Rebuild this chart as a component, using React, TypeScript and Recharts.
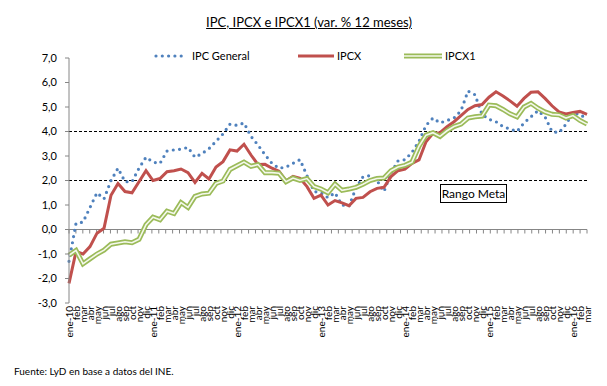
import React from "react";
import { ComposedChart, Line, XAxis, YAxis, ReferenceLine } from "recharts";

const MONTHS = ["ene", "feb", "mar", "abr", "may", "jun", "jul", "ago", "sep", "oct", "nov", "dic"];
const YEARS = ["10", "11", "12", "13", "14", "15", "16"];

// ene-10 .. mar-16
const periods: string[] = YEARS.flatMap((y) => MONTHS.map((m) => `${m}-${y}`)).slice(0, 75);

const ipcGeneral = [
  -1.3, 0.25, 0.3, 0.9, 1.5, 1.25, 2.0, 2.5, 1.95, 1.95, 2.5, 2.95,
  2.75, 2.7, 3.2, 3.25, 3.28, 3.35, 2.95, 3.1, 3.3, 3.6, 3.9, 4.3,
  4.25, 4.35, 3.8, 3.45, 3.05, 2.7, 2.5, 2.55, 2.7, 2.85, 2.2, 1.55,
  1.5, 1.3, 1.5, 1.0, 0.95, 1.7, 2.15, 2.2, 2.0, 1.55, 2.3, 2.8,
  2.85, 3.15, 3.6, 4.25, 4.55, 4.35, 4.45, 4.55, 4.85, 5.65, 5.5, 4.7,
  4.5, 4.4, 4.2, 4.1, 4.0, 4.35, 4.6, 4.85, 4.6, 4.0, 3.95, 4.3,
  4.75, 4.7, 4.5,
];

const ipcx = [
  -2.2, -0.9, -1.0, -0.7, -0.15, 0.05, 1.4, 1.88, 1.55, 1.5, 1.95, 2.4,
  2.0, 2.08, 2.36, 2.4, 2.47, 2.32, 1.92, 2.29, 2.06, 2.55, 2.77, 3.25,
  3.2, 3.48, 3.04, 2.65, 2.66, 2.5, 2.38, 1.98, 2.17, 2.09, 1.75, 1.27,
  1.4, 1.0, 1.18, 1.09, 0.97, 1.27, 1.31, 1.54, 1.68, 1.72, 2.16, 2.4,
  2.46, 2.7, 2.84, 3.58, 3.93, 3.95, 4.2, 4.4, 4.65, 4.9, 5.05, 5.1,
  5.4, 5.62, 5.45, 5.25, 5.03, 5.35, 5.6, 5.62, 5.35, 5.05, 4.8, 4.72,
  4.78, 4.82, 4.7,
];

const ipcx1 = [
  -1.05, -0.85, -1.4, -1.2, -1.0, -0.84, -0.6, -0.55, -0.5, -0.54, -0.4, 0.2,
  0.5, 0.4, 0.75, 0.65, 1.1, 0.9, 1.35, 1.45, 1.48, 1.88, 1.98, 2.45,
  2.6, 2.75, 2.58, 2.65, 2.32, 2.32, 2.3, 1.95, 2.1, 2.0, 2.08, 1.75,
  1.65, 1.5, 1.85, 1.6, 1.65, 1.72, 1.85, 2.0, 2.08, 2.1, 2.4, 2.55,
  2.62, 2.75, 3.4, 3.85, 3.95, 3.8, 4.03, 4.2, 4.3, 4.55, 4.6, 4.63,
  5.08, 5.05, 4.9, 4.72, 4.6, 5.0, 5.15, 4.95, 4.8, 4.7, 4.68, 4.55,
  4.65, 4.45, 4.3,
];

const yTicks = [-3, -2, -1, 0, 1, 2, 3, 4, 5, 6, 7];

const data = periods.map((periodo, i) => ({
  periodo,
  ipc: ipcGeneral[i],
  ipcx: ipcx[i],
  ipcx1: ipcx1[i],
}));

const FONT = "Lato, 'Liberation Sans', sans-serif";
const AXIS_GREY = "#868686";

const fmtMonth = (p: string) => (p.startsWith("ene") ? p : p.slice(0, 3));

function MonthTick({ x, y, payload }: any) {
  return (
    <text
      x={x}
      y={y}
      transform={`rotate(-90 ${x} ${y})`}
      textAnchor="end"
      dy="0.35em"
      fontSize={10}
      fontFamily={FONT}
      fill="#000"
    >
      {fmtMonth(payload.value)}
    </text>
  );
}

// tick marks hanging under the zero line (category axis crosses at 0)
function ZeroTicks(props: any) {
  const vb = props.viewBox || {};
  const n = periods.length;
  const step = vb.width / n;
  return (
    <g>
      {Array.from({ length: n + 1 }, (_, k) => (
        <line
          key={k}
          x1={vb.x + k * step}
          x2={vb.x + k * step}
          y1={vb.y}
          y2={vb.y + 4}
          stroke={AXIS_GREY}
          strokeWidth={1}
        />
      ))}
    </g>
  );
}

function LegendSample({ kind }: { kind: string }) {
  if (kind === "dots") {
    return (
      <svg width={36} height={8}>
        <line x1={3} y1={4} x2={34} y2={4} stroke="#4F81BD" strokeWidth={3.2} strokeLinecap="round" strokeDasharray="0 6.3" />
      </svg>
    );
  }
  if (kind === "red") {
    return (
      <svg width={36} height={8}>
        <line x1={0} y1={4} x2={36} y2={4} stroke="#C0504D" strokeWidth={3} />
      </svg>
    );
  }
  return (
    <svg width={38} height={8}>
      <line x1={0} y1={4} x2={38} y2={4} stroke="#9BBB59" strokeWidth={5} />
      <line x1={0} y1={4} x2={38} y2={4} stroke="#F4F8EC" strokeWidth={1.6} />
    </svg>
  );
}

export default function App() {
  const legendItems = [
    { label: "IPC General", kind: "dots", left: 153 },
    { label: "IPCX", kind: "red", left: 298 },
    { label: "IPCX1", kind: "green", left: 404 },
  ];

  return (
    <div style={{ position: "absolute", left: 0, top: 0, width: 607, height: 386, background: "#fff", fontFamily: FONT }}>
      <div
        style={{
          position: "absolute",
          left: 0,
          width: 618,
          top: 14,
          textAlign: "center",
          fontSize: 13,
          textDecoration: "underline",
          color: "#000",
        }}
      >
        IPC, IPCX e IPCX1 (var. % 12 meses)
      </div>

      {legendItems.map((it) => (
        <div
          key={it.label}
          style={{ position: "absolute", left: it.left, top: 49, display: "flex", alignItems: "center", gap: 3, fontSize: 11, color: "#000" }}
        >
          <LegendSample kind={it.kind} />
          <span>{it.label}</span>
        </div>
      ))}

      <ComposedChart width={607} height={386} data={data} margin={{ top: 58, right: 20, left: 29, bottom: 43 }}>
        <XAxis
          dataKey="periodo"
          interval={0}
          axisLine={false}
          tickLine={false}
          tickSize={0}
          tickMargin={3}
          height={40}
          tick={<MonthTick />}
        />
        <YAxis
          domain={[-3, 7]}
          ticks={yTicks}
          interval={0}
          width={40}
          axisLine={{ stroke: AXIS_GREY }}
          tickLine={{ stroke: AXIS_GREY }}
          tickSize={4}
          tickMargin={8}
          tick={{ fontSize: 11, fill: "#000", fontFamily: FONT }}
          tickFormatter={(v: number) => v.toFixed(1).replace(".", ",")}
        />
        <ReferenceLine y={0} stroke={AXIS_GREY} strokeWidth={1} label={(p: any) => <ZeroTicks {...p} />} />
        <ReferenceLine
          segment={[{ x: periods[0], y: 4 }, { x: periods[periods.length - 1], y: 4 }]}
          stroke="#000"
          strokeDasharray="3 2"
        />
        <ReferenceLine
          segment={[{ x: periods[0], y: 2 }, { x: periods[periods.length - 1], y: 2 }]}
          stroke="#000"
          strokeDasharray="3 2"
        />
        <Line
          dataKey="ipc"
          stroke="#4F81BD"
          strokeWidth={3.2}
          strokeLinecap="round"
          strokeDasharray="0 6.3"
          dot={false}
          type="linear"
          isAnimationActive={false}
        />
        <Line dataKey="ipcx" stroke="#C0504D" strokeWidth={3} dot={false} type="linear" isAnimationActive={false} />
        <Line dataKey="ipcx1" stroke="#9BBB59" strokeWidth={5} dot={false} type="linear" isAnimationActive={false} />
        <Line dataKey="ipcx1" stroke="#F4F8EC" strokeWidth={1.6} dot={false} type="linear" isAnimationActive={false} legendType="none" />
      </ComposedChart>

      <div
        style={{
          position: "absolute",
          left: 440,
          top: 184,
          width: 65,
          height: 17,
          border: "1px solid #000",
          fontSize: 12,
          lineHeight: "17px",
          textAlign: "center",
          background: "#fff",
          color: "#000",
        }}
      >
        Rango Meta
      </div>

      <div style={{ position: "absolute", left: 14, top: 365, fontSize: 10, color: "#000" }}>
        Fuente: LyD en base a datos del INE.
      </div>
    </div>
  );
}
